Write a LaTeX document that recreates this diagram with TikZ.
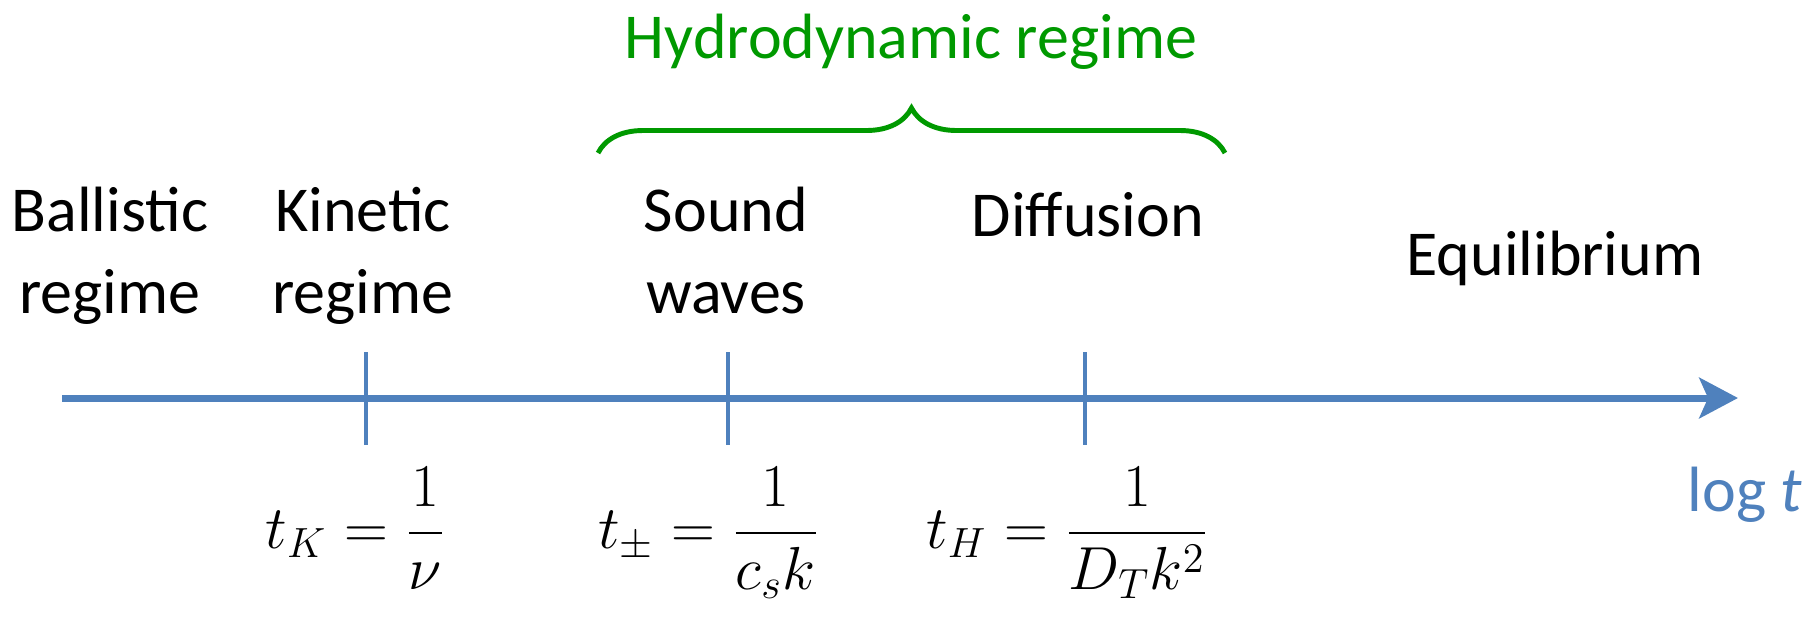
\documentclass[tikz,border=0pt]{standalone}
\usepackage{fontspec}
\setmainfont{Carlito}
\usepackage{tikz}
\usetikzlibrary{arrows.meta,positioning,decorations.pathreplacing,calc}
\definecolor{axblue}{RGB}{79,129,189}
\definecolor{hgreen}{RGB}{0,153,0}
\tikzset{
  lbl/.style={font=\fontsize{18.2}{23.2}\selectfont, align=center, inner sep=0pt, anchor=base},
  eq/.style={font=\fontsize{18.2}{23.2}\selectfont, inner sep=0pt, anchor=base},
  axis/.style={draw=axblue, line width=2pt, -{Stealth[length=11pt,width=11.5pt,inset=2.5pt]}},
  tick/.style={draw=axblue, line width=0.9pt},
  brc/.style={draw=hgreen, line width=1.4pt, decorate, decoration={brace, amplitude=12.8pt}}
}
\begin{document}
\begin{tikzpicture}[x=0.01cm, y=-0.01cm]
\useasboundingbox (0,0) rectangle (1820,617);
% time axis
\coordinate (start) at (62,398);
\coordinate (end) at (1738,398);
\draw[axis] (start) -- (end);
\foreach \name/\x in {kt/366, st/728, ht/1085} {
  \coordinate (\name top) at (\x,352);
  \coordinate (\name bot) at (\x,445);
  \draw[tick] (\name top) -- (\name bot);
}
% regimes (base = last line)
\node[lbl] (ballistic) at (110,313) {Ballistic\\regime};
\node[lbl] (kinetic) at (363,313) {Kinetic\\regime};
\node[lbl] (sound) at (726,313) {Sound\\waves};
\node[lbl] (diffusion) at (1088,236) {Diffusion};
\node[lbl] (equil) at (1555,275) {Equilibrium};
% hydrodynamic brace
\coordinate (bl) at (598,153);
\coordinate (br) at (1225,153);
\draw[brc] (bl) -- (br);
\node[lbl, text=hgreen] (hydro) at (911,58) {Hydrodynamic regime};
% time scales
\node[eq] (tK) at (356,548) {$\displaystyle t_K=\frac{1}{\nu}$};
\node[eq] (tpm) at (709,548) {$\displaystyle t_\pm=\frac{1}{c_sk}$};
\node[eq] (tH) at (1068,548) {$\displaystyle t_H=\frac{1}{D_Tk^2}$};
\node[eq, text=axblue] (logt) at (1745,511) {log \textit{t}};
\end{tikzpicture}
\end{document}
